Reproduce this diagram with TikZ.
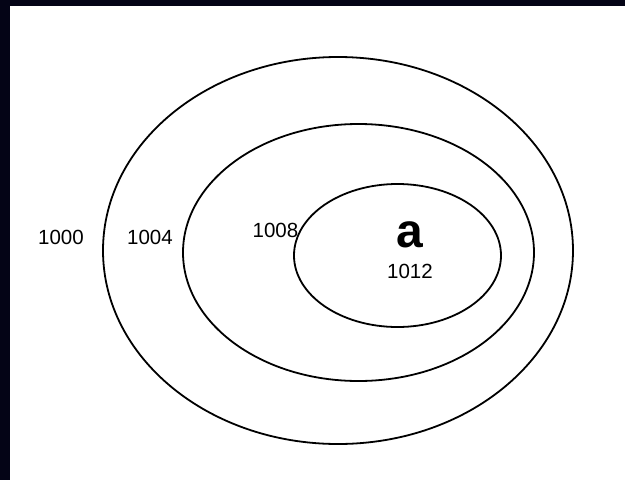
\documentclass[tikz,border=0pt]{standalone}
\usepackage{fontspec}
\setmainfont{Liberation Sans}
\definecolor{cadre}{RGB}{4,4,22}

\begin{document}
\begin{tikzpicture}[x=1pt, y=-1pt,
  anneau/.style={line width=1.8pt},
  adresse/.style={inner sep=0pt, font=\fontsize{20.5}{24}\selectfont}]

\useasboundingbox (0,0) rectangle (625,480);

% bandes sombres du cadre
\fill[cadre] (0,0) rectangle (625,6);
\fill[cadre] (0,0) rectangle (10,480);

\draw[anneau] (338,250.5) ellipse [x radius=235pt, y radius=193.5pt];
\draw[anneau] (358.5,252.5) ellipse [x radius=175.5pt, y radius=128.5pt];
\draw[anneau] (397.5,255.5) ellipse [x radius=103.5pt, y radius=71.5pt];

\node[adresse] (a1000) at (61,237) {1000};
\node[adresse] (a1004) at (150,237) {1004};
\node[adresse] (a1008) at (275.5,230) {1008};
\node[inner sep=0pt, font=\fontsize{48}{50}\selectfont\bfseries] (var) at (410,234.7) {a};
\node[adresse] (a1012) at (410,271.3) {1012};

\end{tikzpicture}
\end{document}
